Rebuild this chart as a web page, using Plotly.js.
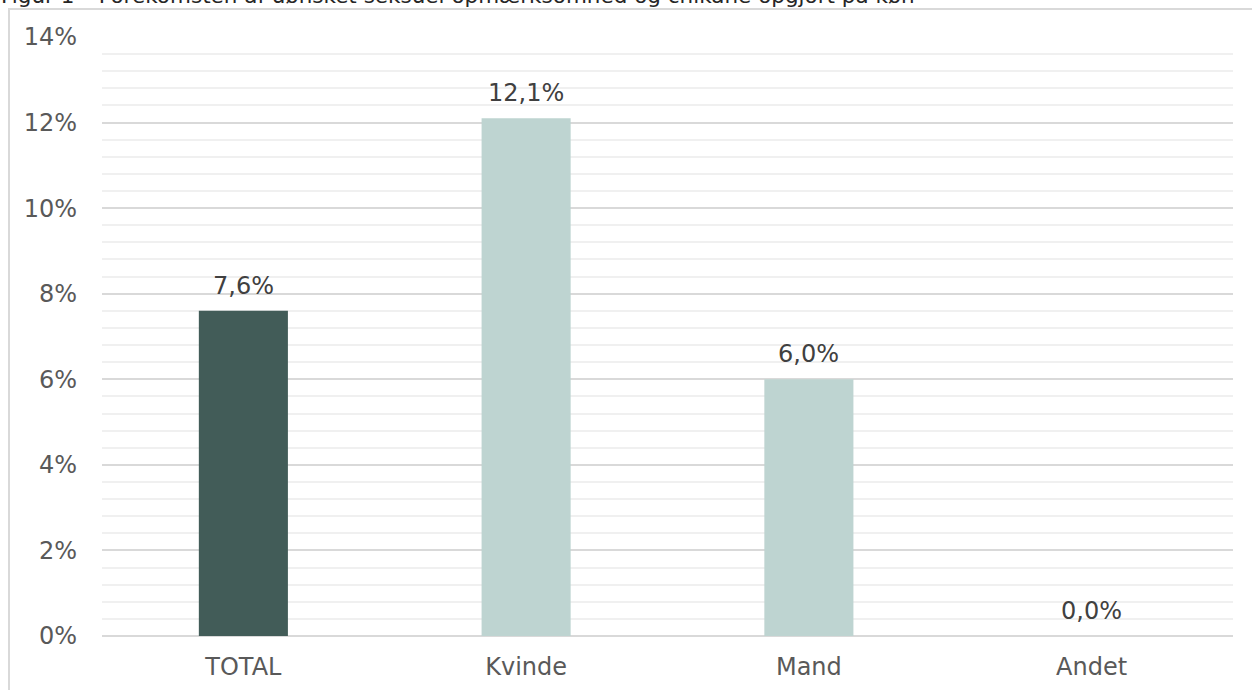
<!DOCTYPE html>
<html>
<head>
<meta charset="utf-8">
<script src="https://cdn.plot.ly/plotly-3.0.1.min.js"></script>
<style>
html, body { margin: 0; padding: 0; background: #ffffff; overflow: hidden; }
#wrap { position: relative; width: 1252px; height: 690px; }
#chart { position: absolute; left: 0; top: 0; width: 1252px; height: 690px; }
#frame { position: absolute; left: 8px; top: 8px; width: 1300px; height: 700px; border: 2px solid #d9d9d9; pointer-events: none; box-sizing: border-box; }
</style>
</head>
<body>
<div id="wrap">
<div id="frame"></div>
<div id="chart"></div>
</div>
<script>
const titleText = "Figur 1 – Forekomsten af uønsket seksuel opmærksomhed og chikane opgjort på køn";
const categories = ["TOTAL", "Kvinde", "Mand", "Andet"];
const values = [7.6, 12.1, 6.0, 0.0];
const barColors = ["#425c58", "#bed4d1", "#bed4d1", "#bed4d1"];
const yTickVals = [0, 2, 4, 6, 8, 10, 12, 14];
const yTickText = ["0%", "2%", "4%", "6%", "8%", "10%", "12%", "14%"];

function fmt(v) { return v.toFixed(1).replace(".", ",") + "%"; }

const trace = {
  type: "bar",
  x: categories,
  y: values,
  marker: { color: barColors },
  hoverinfo: "skip"
};

const annotations = categories.map((c, i) => ({
  x: c, y: values[i], xref: "x", yref: "y",
  text: fmt(values[i]), showarrow: false,
  yanchor: "bottom", yshift: 9,
  font: { family: "DejaVu Sans, Verdana, sans-serif", size: 24, color: "#404040" }
}));

annotations.push({
  xref: "paper", yref: "paper", x: -0.0912, y: 1.0455,
  xanchor: "left", yanchor: "bottom",
  text: titleText, showarrow: false,
  font: { family: "DejaVu Sans, Verdana, sans-serif", size: 21.5, color: "#262626" }
});

const layout = {
  width: 1252, height: 690,
  margin: { l: 102, r: 19, t: 37, b: 54 },
  paper_bgcolor: "rgba(0,0,0,0)",
  plot_bgcolor: "rgba(0,0,0,0)",
  showlegend: false,
  bargap: 0.685,
  font: { family: "DejaVu Sans, Verdana, sans-serif", size: 24, color: "#595959" },
  xaxis: {
    type: "category",
    showgrid: false, showline: false, zeroline: false,
    ticks: "", ticklabelstandoff: 14,
    tickfont: { size: 24, color: "#595959" }
  },
  yaxis: {
    range: [0, 14],
    tickvals: yTickVals, ticktext: yTickText,
    showgrid: true, gridcolor: "#d9d9d9", gridwidth: 2,
    zeroline: true, zerolinecolor: "#d9d9d9", zerolinewidth: 2,
    showline: false, ticks: "", ticklabelstandoff: 24,
    tickfont: { size: 24, color: "#595959" },
    minor: { dtick: 0.4, showgrid: true, gridcolor: "#f0f0f0", gridwidth: 2, ticks: "" }
  },
  annotations: annotations
};

Plotly.newPlot("chart", [trace], layout, { displayModeBar: false, staticPlot: true });
</script>
</body>
</html>
